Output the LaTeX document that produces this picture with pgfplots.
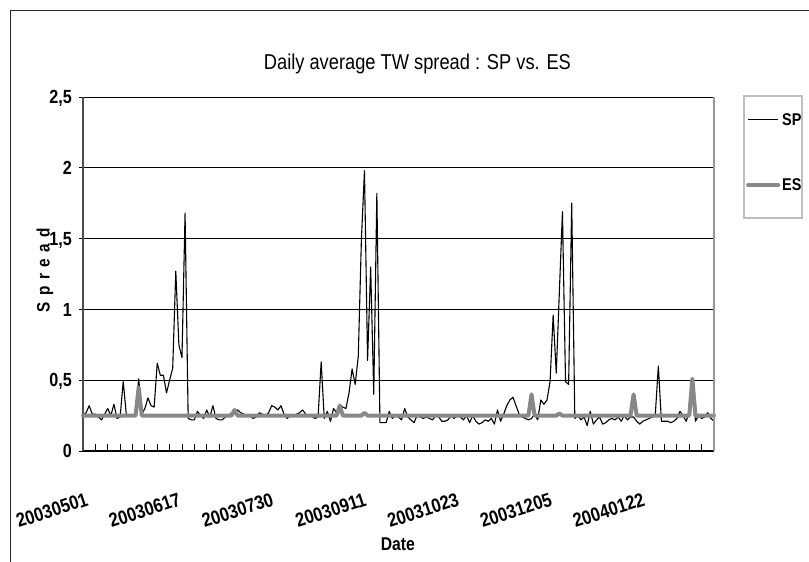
\documentclass[border=0pt]{standalone}
\usepackage{fontspec}
\setmainfont{Liberation Sans}[FakeStretch=0.85]
\usepackage{pgfplots}
\usepackage{pgfplotstable}
\pgfplotsset{compat=1.18}
\definecolor{esgray}{RGB}{136,136,136}
\definecolor{boxgray}{RGB}{190,190,190}

\pgfplotstableread{
idx sp es
0 0.25 0.25
1 0.27 0.25
2 0.32 0.25
3 0.26 0.25
4 0.26 0.25
5 0.24 0.25
6 0.22 0.25
7 0.26 0.25
8 0.30 0.25
9 0.25 0.25
10 0.33 0.25
11 0.23 0.25
12 0.24 0.25
13 0.49 0.25
14 0.26 0.25
15 0.25 0.25
16 0.25 0.25
17 0.26 0.25
18 0.51 0.45
19 0.26 0.25
20 0.30 0.25
21 0.375 0.25
22 0.32 0.25
23 0.31 0.25
24 0.62 0.25
25 0.535 0.25
26 0.535 0.25
27 0.41 0.25
28 0.50 0.25
29 0.585 0.25
30 1.27 0.25
31 0.75 0.25
32 0.66 0.25
33 1.68 0.25
34 0.23 0.25
35 0.22 0.25
36 0.22 0.25
37 0.28 0.25
38 0.25 0.25
39 0.23 0.25
40 0.29 0.25
41 0.24 0.25
42 0.32 0.25
43 0.23 0.25
44 0.22 0.25
45 0.22 0.25
46 0.24 0.25
47 0.25 0.25
48 0.27 0.25
49 0.28 0.29
50 0.29 0.25
51 0.27 0.25
52 0.26 0.25
53 0.25 0.25
54 0.25 0.25
55 0.23 0.25
56 0.24 0.25
57 0.27 0.25
58 0.26 0.25
59 0.25 0.25
60 0.27 0.25
61 0.32 0.25
62 0.31 0.25
63 0.29 0.25
64 0.32 0.25
65 0.26 0.25
66 0.23 0.25
67 0.25 0.25
68 0.25 0.25
69 0.26 0.25
70 0.27 0.25
71 0.29 0.25
72 0.26 0.25
73 0.25 0.25
74 0.25 0.25
75 0.23 0.25
76 0.24 0.25
77 0.63 0.25
78 0.23 0.25
79 0.28 0.25
80 0.21 0.25
81 0.30 0.25
82 0.27 0.25
83 0.33 0.32
84 0.31 0.25
85 0.30 0.25
86 0.41 0.25
87 0.58 0.25
88 0.47 0.25
89 0.67 0.25
90 1.49 0.25
91 1.98 0.27
92 0.64 0.25
93 1.30 0.25
94 0.40 0.25
95 1.82 0.25
96 0.20 0.25
97 0.20 0.25
98 0.20 0.25
99 0.28 0.25
100 0.23 0.25
101 0.25 0.25
102 0.24 0.25
103 0.22 0.25
104 0.30 0.25
105 0.24 0.25
106 0.22 0.25
107 0.20 0.25
108 0.25 0.25
109 0.24 0.25
110 0.23 0.25
111 0.24 0.25
112 0.23 0.25
113 0.22 0.25
114 0.25 0.25
115 0.24 0.25
116 0.21 0.25
117 0.21 0.25
118 0.22 0.25
119 0.25 0.25
120 0.23 0.25
121 0.25 0.25
122 0.24 0.25
123 0.22 0.25
124 0.25 0.25
125 0.20 0.25
126 0.25 0.25
127 0.21 0.25
128 0.19 0.25
129 0.20 0.25
130 0.22 0.25
131 0.21 0.25
132 0.23 0.25
133 0.19 0.25
134 0.29 0.25
135 0.21 0.25
136 0.26 0.25
137 0.32 0.25
138 0.36 0.25
139 0.38 0.25
140 0.32 0.25
141 0.26 0.25
142 0.24 0.25
143 0.23 0.25
144 0.22 0.25
145 0.23 0.40
146 0.26 0.25
147 0.22 0.25
148 0.36 0.25
149 0.33 0.25
150 0.36 0.25
151 0.49 0.25
152 0.96 0.25
153 0.55 0.25
154 1.12 0.265
155 1.69 0.25
156 0.49 0.25
157 0.47 0.25
158 1.75 0.25
159 0.23 0.25
160 0.25 0.25
161 0.22 0.25
162 0.24 0.25
163 0.18 0.25
164 0.28 0.25
165 0.19 0.25
166 0.22 0.25
167 0.24 0.25
168 0.19 0.25
169 0.20 0.25
170 0.22 0.25
171 0.23 0.25
172 0.22 0.25
173 0.24 0.25
174 0.21 0.25
175 0.25 0.25
176 0.22 0.25
177 0.24 0.25
178 0.24 0.40
179 0.21 0.25
180 0.19 0.25
181 0.21 0.25
182 0.22 0.25
183 0.23 0.25
184 0.24 0.25
185 0.25 0.25
186 0.60 0.25
187 0.21 0.25
188 0.21 0.25
189 0.21 0.25
190 0.20 0.25
191 0.21 0.25
192 0.23 0.25
193 0.28 0.25
194 0.25 0.25
195 0.21 0.25
196 0.27 0.25
197 0.48 0.51
198 0.21 0.25
199 0.25 0.25
200 0.23 0.25
201 0.24 0.25
202 0.27 0.25
203 0.23 0.25
204 0.21 0.25
}\spreaddata

\begin{document}
\begin{tikzpicture}
\useasboundingbox (0,0) rectangle (809bp,562bp);
\fill[white] (0,0) rectangle (809bp,562bp);
\draw[line width=1.2bp, black!85] (10.5bp,-2bp) -- (10.5bp,551.5bp) -- (812bp,551.5bp);
\draw[line width=1.5bp, boxgray] (744bp,344bp) rectangle (802bp,466bp);
\begin{axis}[
  at={(83bp,111bp)}, anchor=south west,
  scale only axis, width=631bp, height=354bp,
  xmin=0, xmax=204, ymin=0, ymax=2.5,
  clip=false,
  axis x line*=bottom, axis y line*=left,
  x axis line style={black, line width=1bp},
  y axis line style={black!70, line width=1.2bp},
  /pgf/number format/assume math mode=true,
  /pgf/number format/use comma,
  ytick={0,0.5,1,1.5,2,2.5},
  ymajorgrids,
  major grid style={black, line width=0.9bp},
  tick align=inside, major tick length=7bp, minor tick length=7bp,
  ytick style={xshift=-4bp, black, line width=0.9bp},
  xtick={0,30,60,90,120,150,180},
  xticklabels={20030501,20030617,20030730,20030911,20031023,20031205,20040122},
  major x tick style={draw=none},
  minor xtick={0,4,...,204},
  minor x tick style={black, line width=0.9bp},
  xticklabel style={font=\fontsize{19.5bp}{21bp}\selectfont\bfseries, inner sep=0pt, yshift=-41bp, xshift=2bp, rotate=18, anchor=north east},
  yticklabel style={font=\fontsize{19bp}{21bp}\selectfont\bfseries, inner sep=0pt, anchor=east, text height=13.4bp, text depth=0pt, xshift=-11bp},
  title={Daily average TW spread : SP vs. ES},
  title style={at={(axis description cs:0.530,1.099)}, anchor=center, yshift=-8pt, font=\fontsize{21.5bp}{23bp}\selectfont},
  xlabel={Date},
  xlabel style={at={(axis description cs:0.499,-0.262)}, anchor=center, font=\fontsize{18.5bp}{20bp}\selectfont\bfseries},
  ylabel={S\hspace{6.5bp}p\hspace{6.5bp}r\hspace{6.5bp}e\hspace{6.5bp}a\hspace{6.5bp}d},
  ylabel style={at={(axis description cs:-0.0602,0.511)}, anchor=center, font=\fontsize{18bp}{20bp}\selectfont\bfseries},
  legend style={at={(axis description cs:1.0507,0.9605)}, anchor=north west, draw=none, fill=none, inner sep=0pt, row sep=48bp, font=\fontsize{17bp}{19bp}\selectfont\bfseries, nodes={inner sep=2bp}},
  legend cell align=left,
  legend image code/.code={\draw[#1] (0bp,0bp) -- (30bp,0bp);},
]
\addplot[black, line width=1.1bp, line join=round] table[x=idx,y=sp]{\spreaddata};
\addplot[esgray, line width=4bp, line join=round, line cap=round] table[x=idx,y=es]{\spreaddata};
\legend{SP,ES}
\draw[boxgray!80!black, line width=1.5bp] (rel axis cs:1,0) -- (rel axis cs:1,1);
\end{axis}
\end{tikzpicture}
\end{document}
